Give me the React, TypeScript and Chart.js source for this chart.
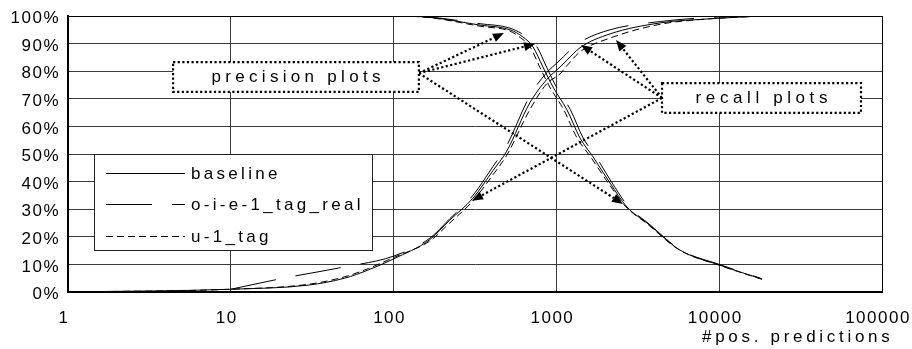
import { useEffect, useRef } from 'react';
import { Chart, registerables } from 'chart.js';

Chart.register(...registerables);

// ---------- data ----------
const X_TICKS = [1, 10, 100, 1000, 10000, 100000];
const Y_MIN = 0;
const Y_MAX = 100;
const Y_STEP = 10;

const LEGEND_LABELS = ['baseline', 'o-i-e-1_tag_real', 'u-1_tag'];
const X_TITLE = '#pos. predictions';
const PRECISION_NOTE = 'precision plots';
const RECALL_NOTE = 'recall plots';

// precision curves
const precisionBaselineX = [20, 100, 167, 340, 519, 623, 718, 827, 953, 1161, 1396, 1678, 2133, 2714, 3603, 5745, 10000, 18300];
const precisionBaselineY = [100, 100, 99.5, 96.7, 95, 92.4, 88.8, 81.5, 74.3, 66, 55.8, 49, 39.5, 30.8, 25, 15.2, 9.8, 4.7];
const precisionOieX = [20, 100, 167, 340, 519, 650, 760, 870, 1000, 1220, 1460, 1750, 2200, 2780, 3650, 5800, 10000, 18300];
const precisionOieY = [100, 100, 99.6, 97.2, 95.6, 92.6, 88.8, 81.5, 74.3, 66, 55.8, 49, 39.5, 30.8, 25, 15.2, 10, 4.8];
const precisionU1X = [20, 100, 167, 340, 519, 600, 690, 790, 910, 1110, 1340, 1620, 2080, 2680, 3560, 5700, 10000, 18300];
const precisionU1Y = [100, 100, 99.4, 96.3, 94.5, 92.2, 88.8, 81.5, 74.3, 66, 55.8, 49, 39.5, 30.8, 25, 15.2, 9.7, 4.6];

// recall curves
const recallBaselineX = [1, 10, 30, 50, 70, 100, 167, 221, 307, 408, 495, 686, 873, 1052, 1161, 1396, 2133, 4345, 8850, 18300];
const recallBaselineY = [0, 1, 2.5, 5, 8, 12, 19, 26, 34, 44, 51, 68.5, 77, 81.5, 84, 88.5, 93.5, 97.5, 99, 100];
const recallOieX = [10, 21, 49, 100, 167, 221, 307, 408, 495, 686, 873, 1052, 1161, 1396, 2133, 4345, 8850, 18300];
const recallOieY = [1, 5, 9, 13, 19.5, 26.5, 35, 45.5, 53, 71, 79.5, 84, 86.5, 90.5, 95, 98, 99.5, 100];
const recallU1X = [1, 10, 30, 50, 70, 100, 167, 221, 307, 408, 495, 686, 873, 1052, 1161, 1396, 2133, 4345, 8850, 18300];
const recallU1Y = [0, 1, 2.8, 5.5, 8.5, 12.5, 18.5, 25, 33, 42.5, 49.5, 66, 75.5, 79, 82, 87, 92, 97, 99, 100];

// annotation anchors (data coordinates: [x, y%])
const PRECISION_BOX = { x0: 4.42, x1: 143, yTop: 83.3, yBottom: 72.5 };
const PRECISION_ARROW_FROM = [143, 79.3];
const PRECISION_ARROW_TO = [[476, 93.8], [739, 89.9], [2564, 31.9]];
const RECALL_BOX = { x0: 4454, x1: 74300, yTop: 75.7, yBottom: 64.9 };
const RECALL_ARROW_FROM = [4454, 70.3];
const RECALL_ARROW_TO = [[1416, 89.5], [2323, 91.3], [303, 33.1]];

// ---------- styles ----------
const FONT_FAMILY = '"Liberation Sans", Arial, Helvetica, sans-serif';
const FONT_SIZE = 17;
const DASHES: number[][] = [[], [46, 20], [7, 4]];
const DOT = [2.2, 2.4];

function pts(xs: number[], ys: number[]) {
  return xs.map((x, i) => ({ x, y: ys[i] }));
}

function drawArrow(ctx: CanvasRenderingContext2D, x0: number, y0: number, x1: number, y1: number) {
  const ang = Math.atan2(y1 - y0, x1 - x0);
  const len = 11;
  const hw = 4.5;
  const bx = x1 - Math.cos(ang) * len;
  const by = y1 - Math.sin(ang) * len;
  ctx.save();
  ctx.strokeStyle = '#000';
  ctx.fillStyle = '#000';
  ctx.lineWidth = 2.2;
  ctx.setLineDash(DOT);
  ctx.beginPath();
  ctx.moveTo(x0, y0);
  ctx.lineTo(bx, by);
  ctx.stroke();
  ctx.setLineDash([]);
  ctx.beginPath();
  ctx.moveTo(x1, y1);
  ctx.lineTo(bx + Math.sin(ang) * hw, by - Math.cos(ang) * hw);
  ctx.lineTo(bx - Math.sin(ang) * hw, by + Math.cos(ang) * hw);
  ctx.closePath();
  ctx.fill();
  ctx.restore();
}

function drawNoteBox(ctx: CanvasRenderingContext2D, l: number, t: number, r: number, b: number, text: string, spacing: number) {
  ctx.save();
  ctx.fillStyle = '#fff';
  ctx.fillRect(l, t, r - l, b - t);
  ctx.strokeStyle = '#000';
  ctx.lineWidth = 2.2;
  ctx.setLineDash(DOT);
  ctx.strokeRect(l, t, r - l, b - t);
  ctx.setLineDash([]);
  (ctx as any).letterSpacing = spacing + 'px';
  ctx.fillStyle = '#000';
  ctx.font = `${FONT_SIZE}px ${FONT_FAMILY}`;
  ctx.textAlign = 'center';
  ctx.textBaseline = 'middle';
  ctx.fillText(text, (l + r) / 2 + spacing / 2, (t + b) / 2);
  ctx.restore();
}

const notesPlugin = {
  id: 'notes',
  beforeDraw(chart: any) {
    chart.ctx.letterSpacing = '1.5px';
  },
  afterDraw(chart: any) {
    const ctx: CanvasRenderingContext2D = chart.ctx;
    const xs = chart.scales.x;
    const ys = chart.scales.y;
    const area = chart.chartArea;
    const px = (v: number) => xs.getPixelForValue(v);
    const py = (v: number) => ys.getPixelForValue(v);

    // arrows
    const pf = [px(PRECISION_ARROW_FROM[0]), py(PRECISION_ARROW_FROM[1])];
    PRECISION_ARROW_TO.forEach(([x, y]) => drawArrow(ctx, pf[0], pf[1], px(x), py(y)));
    const rf = [px(RECALL_ARROW_FROM[0]), py(RECALL_ARROW_FROM[1])];
    RECALL_ARROW_TO.forEach(([x, y]) => drawArrow(ctx, rf[0], rf[1], px(x), py(y)));

    // note boxes
    drawNoteBox(ctx, px(PRECISION_BOX.x0), py(PRECISION_BOX.yTop), px(PRECISION_BOX.x1), py(PRECISION_BOX.yBottom), PRECISION_NOTE, 4.3);
    drawNoteBox(ctx, px(RECALL_BOX.x0), py(RECALL_BOX.yTop), px(RECALL_BOX.x1), py(RECALL_BOX.yBottom), RECALL_NOTE, 4.6);

    // legend
    const lx = area.left + 26.5;
    const ly = area.top + 138.5;
    const lw = 278;
    const lh = 96;
    ctx.save();
    ctx.fillStyle = '#fff';
    ctx.fillRect(lx, ly, lw, lh);
    ctx.strokeStyle = '#222';
    ctx.lineWidth = 1;
    ctx.strokeRect(lx, ly, lw, lh);
    const rowY = [18, 49.3, 81.2];
    ctx.font = `${FONT_SIZE}px ${FONT_FAMILY}`;
    ctx.textAlign = 'left';
    ctx.textBaseline = 'middle';
    (ctx as any).letterSpacing = '3.3px';
    LEGEND_LABELS.forEach((label, i) => {
      const y = Math.round(ly + rowY[i]) + 0.5;
      ctx.strokeStyle = '#000';
      ctx.lineWidth = 1;
      ctx.setLineDash(DASHES[i]);
      ctx.beginPath();
      ctx.moveTo(lx + 11.5, y);
      ctx.lineTo(lx + 90.5, y);
      ctx.stroke();
      ctx.setLineDash([]);
      ctx.fillStyle = '#000';
      ctx.fillText(label, lx + 96.5, y + 1);
    });
    ctx.restore();

    // x-axis title
    ctx.save();
    ctx.font = `${FONT_SIZE}px ${FONT_FAMILY}`;
    (ctx as any).letterSpacing = '3.7px';
    ctx.fillStyle = '#000';
    ctx.textAlign = 'left';
    ctx.textBaseline = 'alphabetic';
    ctx.fillText(X_TITLE, area.right - 180, 342);
    ctx.restore();

    // plot frame
    ctx.save();
    ctx.strokeStyle = '#000';
    ctx.lineWidth = 1;
    ctx.strokeRect(Math.round(area.left) + 0.5, Math.round(area.top) + 0.5, Math.round(area.right - area.left), Math.round(area.bottom - area.top));
    ctx.lineWidth = 2;
    ctx.beginPath();
    ctx.moveTo(area.left, area.top);
    ctx.lineTo(area.left, area.bottom);
    ctx.lineTo(area.right, area.bottom);
    ctx.stroke();
    ctx.restore();
  },
};

export default function App() {
  const ref = useRef<HTMLCanvasElement>(null);

  useEffect(() => {
    const canvas = ref.current;
    if (!canvas) return;

    const series = [
      { label: LEGEND_LABELS[0] + ' precision', data: pts(precisionBaselineX, precisionBaselineY), dash: DASHES[0] },
      { label: LEGEND_LABELS[1] + ' precision', data: pts(precisionOieX, precisionOieY), dash: DASHES[1] },
      { label: LEGEND_LABELS[2] + ' precision', data: pts(precisionU1X, precisionU1Y), dash: DASHES[2] },
      { label: LEGEND_LABELS[0] + ' recall', data: pts(recallBaselineX, recallBaselineY), dash: DASHES[0] },
      { label: LEGEND_LABELS[1] + ' recall', data: pts(recallOieX, recallOieY), dash: DASHES[1] },
      { label: LEGEND_LABELS[2] + ' recall', data: pts(recallU1X, recallU1Y), dash: DASHES[2] },
    ];

    const datasets = series.map((s) => ({
      label: s.label,
      data: s.data,
      borderColor: '#000',
      borderWidth: 1,
      borderDash: s.dash,
      pointRadius: 0,
      fill: false,
      cubicInterpolationMode: 'monotone' as const,
    }));

    const tickFont = { family: FONT_FAMILY, size: FONT_SIZE };

    const chart = new Chart(canvas, {
      type: 'line',
      data: { datasets },
      options: {
        animation: false,
        responsive: false,
        maintainAspectRatio: false,
        events: [],
        layout: { padding: { left: 0, right: 30, top: 16, bottom: 0 } },
        plugins: {
          legend: { display: false },
          tooltip: { enabled: false },
          title: { display: false },
        },
        scales: {
          x: {
            type: 'logarithmic',
            min: X_TICKS[0],
            max: X_TICKS[X_TICKS.length - 1],
            afterBuildTicks: (scale: any) => {
              scale.ticks = X_TICKS.map((v) => ({ value: v }));
            },
            afterFit: (scale: any) => {
              scale.height = 57;
              scale.paddingLeft = 0;
              scale.paddingRight = 0;
            },
            grid: { color: '#3a3a3a', lineWidth: 1, drawTicks: false },
            border: { display: true, color: '#000', width: 2 },
            ticks: {
              color: '#000',
              font: tickFont,
              padding: 16,
              labelOffset: -4,
              maxRotation: 0,
              autoSkip: false,
              callback: (v: any) => String(v),
            },
          },
          y: {
            type: 'linear',
            min: Y_MIN,
            max: Y_MAX,
            afterFit: (scale: any) => {
              scale.width = 68;
              scale.paddingTop = 0;
              scale.paddingBottom = 0;
            },
            grid: { color: '#3a3a3a', lineWidth: 1, drawTicks: false },
            border: { display: true, color: '#000', width: 2 },
            ticks: {
              stepSize: Y_STEP,
              color: '#000',
              font: tickFont,
              padding: 8,
              labelOffset: 2.5,
              callback: (v: any) => v + '%',
            },
          },
        },
      },
      plugins: [notesPlugin],
    });

    return () => chart.destroy();
  }, []);

  return (
    <div style={{ position: 'absolute', left: 0, top: 0, width: 912, height: 349, background: '#fff' }}>
      <canvas ref={ref} width={912} height={349} style={{ display: 'block', width: 912, height: 349 }} />
    </div>
  );
}
